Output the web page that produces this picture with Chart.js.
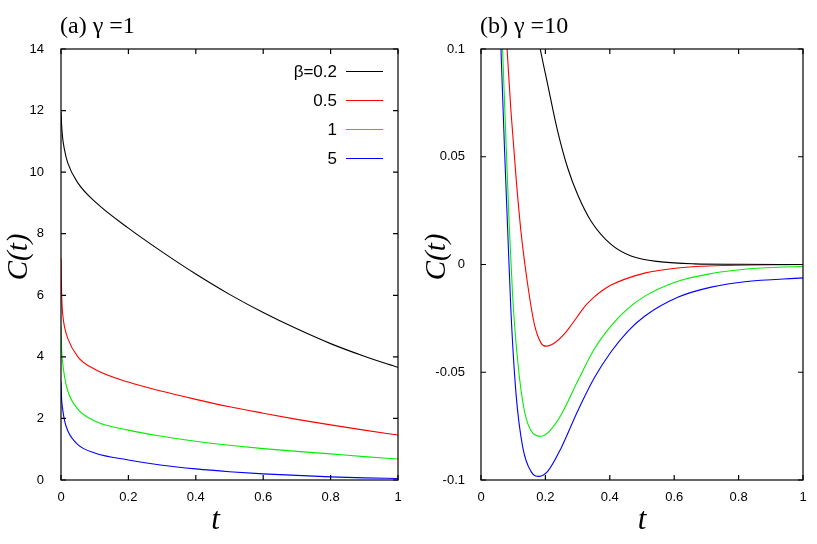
<!DOCTYPE html>
<html>
<head>
<meta charset="utf-8">
<script src="https://cdn.jsdelivr.net/npm/chart.js@4.4.0/dist/chart.umd.min.js"></script>
<style>
  html, body { margin: 0; padding: 0; background: #fff; }
  #wrap { position: relative; width: 817px; height: 544px; background: #fff; }
  canvas { position: absolute; top: 0; }
</style>
</head>
<body>
<div id="wrap">
  <canvas id="cA" width="420" height="544" style="left:0px"></canvas>
  <canvas id="cB" width="397" height="544" style="left:420px"></canvas>
</div>
<script>
// ---------- Data: panel (a) gamma = 1 ----------
const tA      = [0, 0.002, 0.005, 0.01, 0.02, 0.05, 0.1, 0.2, 0.3, 0.4, 0.5, 0.6, 0.7, 0.8, 0.9, 1.0];
const cA_b02  = [11.95, 11.5, 11.1, 10.75, 10.3, 9.65, 9.05, 8.18, 7.41, 6.69, 6.03, 5.44, 4.91, 4.43, 4.02, 3.66];
const cA_b05  = [7.2, 6.0, 5.4, 5.0, 4.6, 4.0, 3.6, 3.18, 2.88, 2.62, 2.38, 2.17, 1.97, 1.79, 1.62, 1.46];
const cA_b1   = [5.0, 4.2, 3.8, 3.4, 2.9, 2.3, 1.92, 1.62, 1.42, 1.26, 1.13, 1.02, 0.93, 0.85, 0.76, 0.68];
const cA_b5   = [3.2, 2.6, 2.3, 1.95, 1.6, 1.15, 0.88, 0.65, 0.48, 0.36, 0.27, 0.2, 0.15, 0.1, 0.07, 0.05];

// ---------- Data: panel (b) gamma = 10 ----------
const tB_b02 = [0.16, 0.184, 0.207, 0.238, 0.269, 0.30, 0.342, 0.404, 0.466, 0.56, 0.663, 0.8, 1.0];
const cB_b02 = [0.12, 0.1, 0.0836, 0.0619, 0.0449, 0.0325, 0.0201, 0.0093, 0.0039, 0.0012, 0.0003, 0.0001, 0];
const tB_b05 = [0.07, 0.081, 0.093, 0.109, 0.124, 0.145, 0.166, 0.187, 0.202, 0.228, 0.259, 0.28, 0.30, 0.325, 0.352, 0.38, 0.404, 0.508, 0.611, 0.767, 1.0];
const cB_b05 = [0.126, 0.1, 0.0712, 0.0402, 0.0155, -0.0093, -0.0279, -0.0366, -0.0379, -0.0364, -0.0322, -0.0282, -0.0240, -0.0190, -0.0150, -0.0117, -0.0095, -0.0040, -0.0016, -0.0004, 0];
const tB_b1  = [0.06, 0.067, 0.078, 0.088, 0.098, 0.114, 0.135, 0.161, 0.187, 0.212, 0.249, 0.30, 0.352, 0.404, 0.456, 0.508, 0.611, 0.715, 0.819, 1.0];
const cB_b1  = [0.128, 0.1, 0.0557, 0.017, -0.0139, -0.0449, -0.0681, -0.0782, -0.0797, -0.0774, -0.0697, -0.0542, -0.0392, -0.0285, -0.0205, -0.0148, -0.0078, -0.0042, -0.0022, -0.0008];
const tB_b5  = [0.055, 0.062, 0.0725, 0.083, 0.093, 0.109, 0.130, 0.155, 0.181, 0.207, 0.249, 0.30, 0.352, 0.404, 0.456, 0.508, 0.611, 0.715, 0.819, 1.0];
const cB_b5  = [0.13, 0.1, 0.0557, 0.0155, -0.0217, -0.0604, -0.0851, -0.096, -0.0983, -0.096, -0.0851, -0.0681, -0.0526, -0.0405, -0.0310, -0.0240, -0.0152, -0.0105, -0.0080, -0.0062];

// ---------- Labels / ticks ----------
const seriesLabels = ['β=0.2', '0.5', '1', '5'];
const seriesColors = ['#000000', '#ff0000', '#00ee00', '#0000ff'];
const xTickLabels  = ['0', '0.2', '0.4', '0.6', '0.8', '1'];
const yTickLabelsA = ['0', '2', '4', '6', '8', '10', '12', '14'];
const yTickLabelsB = ['-0.1', '-0.05', '0', '0.05', '0.1'];
const titleA = '(a) γ =1';
const titleB = '(b) γ =10';
const xTitle = 't';
const yTitle = 'C(t)';

function pts(ts, cs) { return ts.map((t, i) => ({ x: t, y: cs[i] })); }
function ds(i, ts, cs) {
  return {
    label: seriesLabels[i], data: pts(ts, cs),
    borderColor: seriesColors[i], backgroundColor: seriesColors[i],
    borderWidth: 1.1, pointRadius: 0, fill: false,
    cubicInterpolationMode: 'monotone'
  };
}

const framePlugin = {
  id: 'frame',
  afterDraw(chart, args, opts) {
    const { ctx, chartArea: a, scales } = chart;
    ctx.save();
    ctx.strokeStyle = '#000';
    ctx.lineWidth = 1.2;
    ctx.strokeRect(a.left, a.top, a.right - a.left, a.bottom - a.top);
    const L = 5;
    ctx.beginPath();
    scales.x.ticks.forEach(tk => {
      const px = scales.x.getPixelForValue(tk.value);
      ctx.moveTo(px, a.bottom); ctx.lineTo(px, a.bottom - L);
      ctx.moveTo(px, a.top); ctx.lineTo(px, a.top + L);
    });
    scales.y.ticks.forEach(tk => {
      const py = scales.y.getPixelForValue(tk.value);
      ctx.moveTo(a.left, py); ctx.lineTo(a.left + L, py);
      ctx.moveTo(a.right, py); ctx.lineTo(a.right - L, py);
    });
    ctx.stroke();

    // titles
    ctx.fillStyle = '#000';
    ctx.textAlign = 'left'; ctx.textBaseline = 'alphabetic';
    ctx.font = '24px "Liberation Serif", serif';
    ctx.fillText(opts.title, a.left - 1, 33);
    // x title
    ctx.font = 'italic 31px "Liberation Serif", serif';
    ctx.textAlign = 'center'; ctx.textBaseline = 'middle';
    ctx.fillText(xTitle, (a.left + a.right) / 2 + opts.xTitleDx, 521);
    // y title rotated
    ctx.save();
    ctx.translate(opts.yTitleX, 257);
    ctx.rotate(-Math.PI / 2);
    ctx.font = 'italic 29px "Liberation Serif", serif';
    ctx.fillText(yTitle, 0, 0);
    ctx.restore();

    // legend
    if (opts.legend) {
      ctx.font = '17px "Liberation Sans", Arial, sans-serif';
      ctx.textAlign = 'right'; ctx.textBaseline = 'middle';
      chart.data.datasets.forEach((d, i) => {
        const y = 71.5 + i * 29;
        ctx.fillStyle = '#000';
        ctx.fillText(d.label, 337, y + 1);
        ctx.strokeStyle = d.borderColor;
        ctx.lineWidth = 1.2;
        ctx.beginPath(); ctx.moveTo(346, y); ctx.lineTo(383, y); ctx.stroke();
      });
    }
    ctx.restore();
  }
};

const tickFont = { family: '"Liberation Sans", Arial, sans-serif', size: 13 };

function makeOptions(ymin, ymax, ystep, ylabels, rightPad, ypad, frameOpts) {
  return {
    responsive: false, animation: false, devicePixelRatio: 1,
    layout: { padding: { top: 49, right: rightPad, left: 0, bottom: 0 } },
    plugins: { legend: { display: false }, tooltip: { enabled: false }, frame: frameOpts },
    scales: {
      x: {
        type: 'linear', min: 0, max: 1,
        grid: { display: false }, border: { display: false },
        ticks: { stepSize: 0.2, color: '#000', font: tickFont, padding: 2, maxRotation: 0,
                 callback: (v, i) => xTickLabels[i] },
        afterFit: s => { s.height = 64; }
      },
      y: {
        type: 'linear', min: ymin, max: ymax,
        grid: { display: false }, border: { display: false },
        ticks: { stepSize: ystep, color: '#000', font: tickFont, padding: ypad,
                 callback: (v, i) => ylabels[i] },
        afterFit: s => { s.width = 61; }
      }
    }
  };
}

new Chart(document.getElementById('cA'), {
  type: 'line',
  data: { datasets: [ds(0, tA, cA_b02), ds(1, tA, cA_b05), ds(2, tA, cA_b1), ds(3, tA, cA_b5)] },
  options: makeOptions(0, 14, 2, yTickLabelsA, 22, 9, { title: titleA, legend: true, yTitleX: 19, xTitleDx: -14 }),
  plugins: [framePlugin]
});

new Chart(document.getElementById('cB'), {
  type: 'line',
  data: { datasets: [ds(0, tB_b02, cB_b02), ds(1, tB_b05, cB_b05), ds(2, tB_b1, cB_b1), ds(3, tB_b5, cB_b5)] },
  options: makeOptions(-0.1, 0.1, 0.05, yTickLabelsB, 14, 8, { title: titleB, legend: false, yTitleX: 17, xTitleDx: 0 }),
  plugins: [framePlugin]
});
</script>
</body>
</html>
